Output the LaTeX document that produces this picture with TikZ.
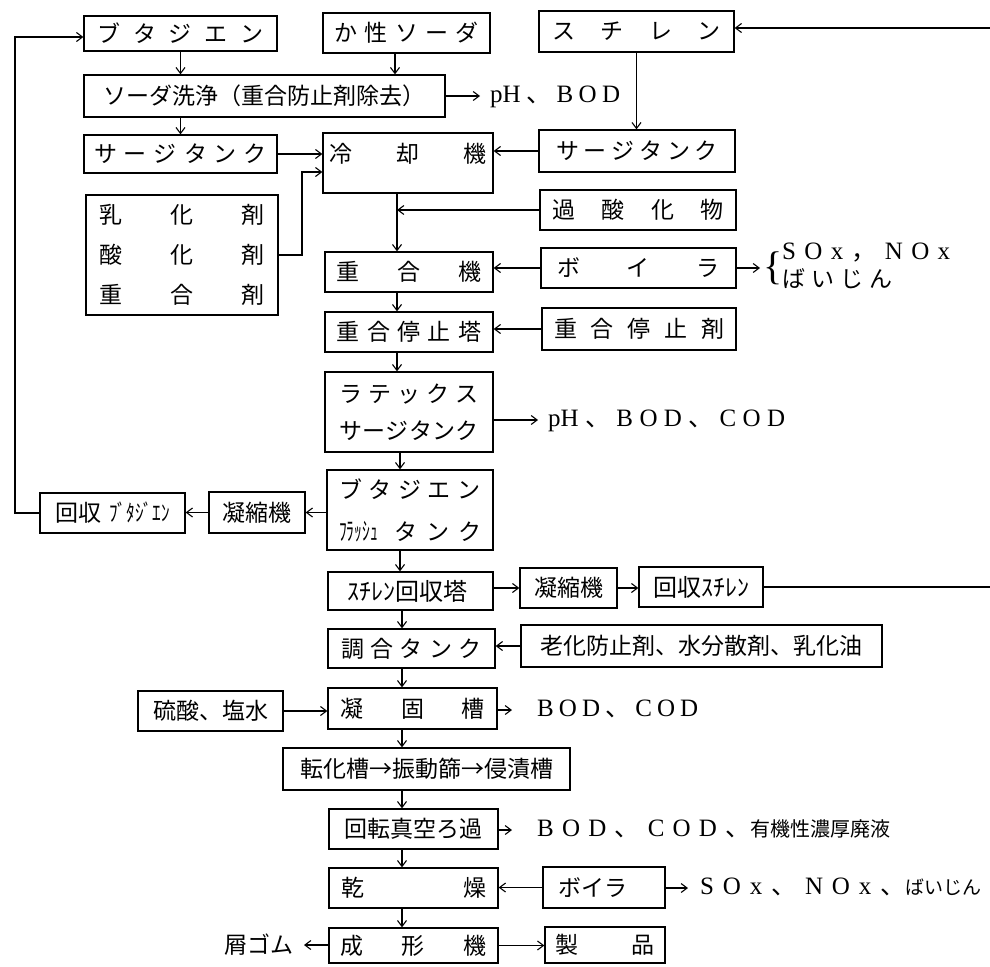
\documentclass[tikz,border=0pt]{standalone}
\usepackage{fontspec}
\usepackage{graphicx}
\setmainfont{Noto Sans CJK JP}
\newfontfamily\jp{Noto Sans CJK JP}
\newfontfamily\lat{Liberation Serif}
\usetikzlibrary{arrows.meta}
\newcommand\spr[2]{\makebox[#1][s]{#2}}
\newcommand\fs[1]{\fontsize{#1}{#1}\selectfont}
\newcommand\fsz[2]{\fontsize{#1}{#2}\selectfont}
\begin{document}
\begin{tikzpicture}[x=1pt,y=-1pt,
  box/.style={draw, line width=1.3pt, inner sep=0pt, font=\fs{23}},
  arr/.style={-{Straight Barb[length=6pt,width=9pt]}, line width=1.1pt},
  ln/.style={line width=1.1pt},
  lab/.style={inner sep=0pt, anchor=west, font=\lat\fs{25}, text height=17pt, text depth=5pt},
]
\useasboundingbox (0,0) rectangle (990,966);
\fill[white] (0,0) rectangle (990,966);

% coordinates for flow lines
\coordinate (xs) at (395,0);
\coordinate (xa) at (397,0);
\coordinate (xb) at (400,0);
\coordinate (xc) at (402,0);
\coordinate (lp) at (15,37);
\coordinate (j1) at (302,172);
\coordinate (eT) at (990,28);
\coordinate (eR) at (990,587);

% boxes
\node[box, minimum width=193pt, minimum height=35pt] (buta) at (180.5,33.5) {\spr{166pt}{ブ\hfill タ\hfill ジ\hfill エ\hfill ン}};
\node[box, minimum width=167pt, minimum height=40pt] (soda) at (406.5,33) {\spr{145pt}{か\hfill 性\hfill ソ\hfill ー\hfill ダ}};
\node[box, minimum width=195pt, minimum height=41pt] (sty) at (636.5,31.5) {\spr{168pt}{ス\hfill チ\hfill レ\hfill ン}};
\node[box, minimum width=361pt, minimum height=42pt] (wash) at (264.5,96) {ソーダ洗浄（重合防止剤除去）};
\node[box, minimum width=193pt, minimum height=38pt] (surL) at (180.5,154) {\spr{173pt}{サ\hfill ー\hfill ジ\hfill タ\hfill ン\hfill ク}};
\node[box, minimum width=170pt, text height=29pt, text depth=31pt] (cool) at (408,163) {\spr{157pt}{冷\hfill 却\hfill 機}};
\node[box, minimum width=196pt, minimum height=42pt] (surR) at (637,151) {\spr{162pt}{サ\hfill ー\hfill ジ\hfill タ\hfill ン\hfill ク}};
\node[box, minimum width=192pt, minimum height=120pt, align=center, font=\fsz{23}{40}] (emul) at (182,255)
  {\spr{165pt}{乳\hfill 化\hfill 剤}\\ \spr{165pt}{酸\hfill 化\hfill 剤}\\ \spr{165pt}{重\hfill 合\hfill 剤}};
\node[box, minimum width=196pt, minimum height=40pt] (per) at (638,210) {\spr{171pt}{過\hfill 酸\hfill 化\hfill 物}};
\node[box, minimum width=168pt, minimum height=40pt] (poly) at (409,272) {\spr{145pt}{重\hfill 合\hfill 機}};
\node[box, minimum width=195pt, minimum height=40pt] (boi) at (638.5,268) {\spr{162pt}{ボ\hfill イ\hfill ラ}};
\node[box, minimum width=168pt, minimum height=40pt] (stopT) at (409,332) {\spr{145pt}{重\hfill 合\hfill 停\hfill 止\hfill 塔}};
\node[box, minimum width=194pt, minimum height=42pt] (stopA) at (639,329) {\spr{170pt}{重\hfill 合\hfill 停\hfill 止\hfill 剤}};
\node[box, minimum width=168pt, minimum height=80pt, align=center, font=\fsz{23}{37}] (latex) at (409,412)
  {\spr{140pt}{ラ\hfill テ\hfill ッ\hfill ク\hfill ス}\\ \spr{140pt}{サ\hfill ー\hfill ジ\hfill タ\hfill ン\hfill ク}};
\node[box, minimum width=166pt, minimum height=80pt, align=center, font=\fsz{23}{42}] (flash) at (410,510)
  {\spr{141pt}{ブ\hfill タ\hfill ジ\hfill エ\hfill ン}\\ \makebox[142pt][s]{\scalebox{0.62}[1]{\fs{25}ﾌﾗｯｼｭ}\hspace{17pt}タ\hfill ン\hfill ク}};
\node[box, minimum width=96pt, minimum height=41pt] (condL) at (257,512.5) {凝縮機};
\node[box, minimum width=145pt, minimum height=40pt] (recB) at (112.5,513) {回収\hspace{8pt}\scalebox{0.75}[1]{\fs{23}ﾌﾞﾀｼﾞｴﾝ}};
\node[box, minimum width=165pt, minimum height=38pt, font=\fs{24}] (styT) at (410.5,591) {\hspace{-6pt}ｽﾁﾚﾝ回収塔};
\node[box, minimum width=97pt, minimum height=40pt] (condR) at (568.5,588) {凝縮機};
\node[box, minimum width=124pt, minimum height=40pt, font=\fs{24}] (recS) at (701,587) {回収ｽﾁﾚﾝ};
\node[box, minimum width=167pt, minimum height=39pt] (mix) at (411.5,648.5) {\spr{141pt}{調\hfill 合\hfill タ\hfill ン\hfill ク}};
\node[box, minimum width=361pt, minimum height=42pt] (add) at (701.5,646) {老化防止剤、水分散剤、乳化油};
\node[box, minimum width=169pt, minimum height=41pt] (coag) at (412.5,708.5) {\spr{145pt}{凝\hfill 固\hfill 槽}};
\node[box, minimum width=145pt, minimum height=40pt] (acid) at (210.5,711) {硫酸、塩水};
\node[box, minimum width=287pt, minimum height=42pt] (conv) at (426.5,769) {転化槽→振動篩→侵漬槽};
\node[box, minimum width=169pt, minimum height=40pt] (filt) at (413.5,829) {回転真空ろ過};
\node[box, minimum width=169pt, minimum height=40pt] (dry) at (413.5,888) {\spr{145pt}{乾\hfill 燥}};
\node[box, minimum width=122pt, minimum height=41pt] (boi2) at (604,887.5) {\makebox[92pt][l]{ボイラ}};
\node[box, minimum width=169pt, minimum height=35pt] (mold) at (413.5,945.5) {\spr{147pt}{成\hfill 形\hfill 機}};
\node[box, minimum width=120pt, minimum height=36pt] (prod) at (605,945) {\spr{99pt}{製\hfill 品}};

% labels
\node[lab] (ph1) at (490,96) {\spr{130pt}{pH\hfill{\jp 、}\hfill B\hfill O\hfill D}};
\node[lab] (ph2) at (548,420) {\spr{237pt}{pH\hfill{\jp 、}\hfill B\hfill O\hfill D\hfill{\jp 、}\hfill C\hfill O\hfill D}};
\node[lab] (bc1) at (537,710) {\spr{161pt}{B\hfill O\hfill D\hfill{\jp 、}\hfill C\hfill O\hfill D}};
\node[lab] (bc2) at (537,830) {\spr{213pt}{B\hfill O\hfill D\hfill{\jp 、}\hfill C\hfill O\hfill D\hfill{\jp 、}}{\jp\fs{20}有機性濃厚廃液}};
\node[lab] (sox2) at (700,888) {\spr{205pt}{S\hfill O\hfill x\hfill{\jp 、}\hfill N\hfill O\hfill x\hfill{\jp 、}}{\jp\fs{19}ばいじん}};
\node[inner sep=0pt, anchor=west, font=\lat\fs{40}] (brace) at (763,268) {\{};
\node[inner sep=0pt, anchor=west, align=left, font=\jp\fsz{23}{28}] (sox1) at (782,266)
  {{\lat\fs{25}\spr{168pt}{S\hfill O\hfill x\hfill{\jp ，}\hfill N\hfill O\hfill x}}\\ \spr{110pt}{ば\hfill い\hfill じ\hfill ん}};
\node[inner sep=0pt, anchor=east, font=\fs{23}] (kuzu) at (294,945) {屑ゴム};

% connectors
\draw[arr] (buta.south) -- (buta.south |- wash.north);
\draw[arr] (soda.south -| xs) -- (wash.north -| xs);
\draw[arr, shorten >=10pt] (wash.east) -- (ph1.west);
\draw[arr] (wash.south -| surL.north) -- (surL.north);
\draw[arr] (eT) -- (eT -| sty.east);
\draw[arr] (sty.south) -- (sty.south |- surR.north);
\draw[arr] (surL.east) -- (surL.east -| cool.west);
\draw[arr] (surR.west) -- (surR.west -| cool.east);
\draw[arr] (emul.east) -| (j1) -- (j1 -| cool.west);
\draw[arr] (cool.south -| xa) -- (poly.north -| xa);
\draw[arr] (per.west) -- (per.west -| xa);
\draw[arr] (boi.west) -- (boi.west -| poly.east);
\draw[arr, shorten >=3pt] (boi.east) -- (brace.west |- boi.east);
\draw[arr] (poly.south -| xa) -- (stopT.north -| xa);
\draw[arr] (stopA.west) -- (stopA.west -| stopT.east);
\draw[arr] (stopT.south -| xa) -- (latex.north -| xa);
\draw[arr, shorten >=10pt] (latex.east |- ph2.west) -- (ph2.west);
\draw[arr] (latex.south -| xb) -- (flash.north -| xb);
\draw[arr] (flash.west |- condL.east) -- (condL.east);
\draw[arr] (condL.west) -- (condL.west -| recB.east);
\draw[arr] (recB.west) -| (lp) -- (lp -| buta.west);
\draw[arr] (flash.south -| xb) -- (styT.north -| xb);
\draw[arr] (styT.east |- condR.west) -- (condR.west);
\draw[arr] (condR.east) -- (condR.east -| recS.west);
\draw[ln] (recS.east) -- (eR);
\draw[arr] (styT.south -| xc) -- (mix.north -| xc);
\draw[arr] (add.west) -- (add.west -| mix.east);
\draw[arr] (mix.south -| xc) -- (coag.north -| xc);
\draw[arr] (acid.east) -- (acid.east -| coag.west);
\draw[arr, shorten >=25pt] (coag.east |- bc1.west) -- (bc1.west);
\draw[arr] (coag.south -| xc) -- (conv.north -| xc);
\draw[arr] (conv.south -| xc) -- (filt.north -| xc);
\draw[arr, shorten >=25pt] (filt.east |- bc2.west) -- (bc2.west);
\draw[arr] (filt.south -| xc) -- (dry.north -| xc);
\draw[arr] (boi2.west) -- (boi2.west -| dry.east);
\draw[arr, shorten >=12pt] (boi2.east |- sox2.west) -- (sox2.west);
\draw[arr] (dry.south -| xc) -- (mold.north -| xc);
\draw[arr, shorten >=10pt] (mold.west |- kuzu.east) -- (kuzu.east);
\draw[arr] (mold.east) -- (mold.east -| prod.west);
\end{tikzpicture}
\end{document}
